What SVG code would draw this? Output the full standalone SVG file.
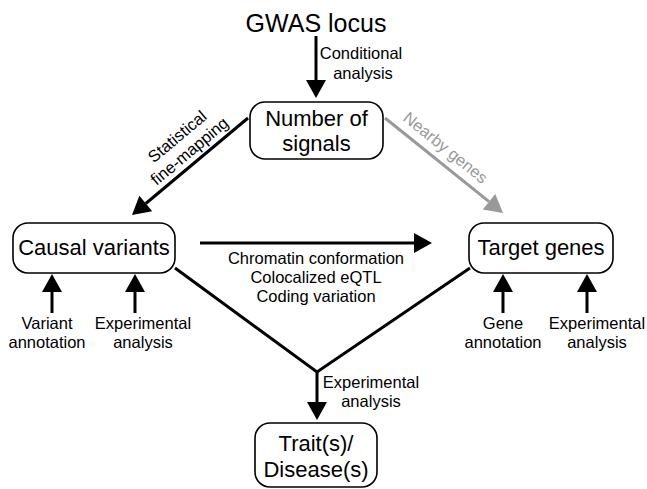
<svg xmlns="http://www.w3.org/2000/svg" width="647" height="489" viewBox="0 0 647 489">
<style>
text{font-family:"Liberation Sans",Arial,sans-serif;fill:#000}
.nt{font-size:22px;text-anchor:middle}
.lb{font-size:16.5px;text-anchor:middle}
.box{fill:#fff;stroke:#000;stroke-width:1.6}
.ln{stroke:#000;stroke-width:3;fill:none}
.gr{stroke:#999;stroke-width:3;fill:none}
</style>
<defs>
<marker id="ah" markerUnits="userSpaceOnUse" markerWidth="20" markerHeight="22" refX="0" refY="10" orient="auto" overflow="visible"><path d="M0,0 L18,10 L0,20 z" fill="#000"/></marker>
<marker id="ahg" markerUnits="userSpaceOnUse" markerWidth="20" markerHeight="22" refX="0" refY="10" orient="auto" overflow="visible"><path d="M0,0 L18,10 L0,20 z" fill="#999"/></marker>
</defs>
<rect width="647" height="489" fill="#fff"/>
<g id="connectors">
<line class="ln" x1="316" y1="36" x2="316" y2="80" marker-end="url(#ah)"/>
<line class="ln" x1="248" y1="118" x2="145.8" y2="203.5" marker-end="url(#ah)"/>
<line class="gr" x1="385" y1="118" x2="489" y2="201.7" marker-end="url(#ahg)"/>
<line class="ln" x1="200" y1="243" x2="414" y2="243" marker-end="url(#ah)"/>
<line class="ln" x1="52" y1="313" x2="52" y2="292" marker-end="url(#ah)"/>
<line class="ln" x1="135" y1="313" x2="135" y2="292" marker-end="url(#ah)"/>
<line class="ln" x1="503" y1="313" x2="503" y2="292" marker-end="url(#ah)"/>
<line class="ln" x1="587" y1="313" x2="587" y2="292" marker-end="url(#ah)"/>
<polyline class="ln" points="175,268 317,372 470,268"/>
<line class="ln" x1="317" y1="371" x2="317" y2="402" marker-end="url(#ah)"/>
<text class="lb" x="361" y="59">Conditional</text>
<text class="lb" x="363" y="79">analysis</text>
<g transform="translate(186,147) rotate(-40)">
<text class="lb" x="0" y="-8">Statistical</text>
<text class="lb" x="0" y="11">fine-mapping</text>
</g>
<text class="lb" transform="translate(442,152) rotate(39)" x="0" y="0" style="fill:#999">Nearby genes</text>
<text class="lb" x="316" y="264">Chromatin conformation</text>
<text class="lb" x="316" y="283">Colocalized eQTL</text>
<text class="lb" x="316" y="302">Coding variation</text>
<text class="lb" x="47" y="329">Variant</text>
<text class="lb" x="47" y="348">annotation</text>
<text class="lb" x="143" y="329">Experimental</text>
<text class="lb" x="143" y="348">analysis</text>
<text class="lb" x="503" y="329">Gene</text>
<text class="lb" x="503" y="348">annotation</text>
<text class="lb" x="597" y="329">Experimental</text>
<text class="lb" x="597" y="348">analysis</text>
<text class="lb" x="371" y="388">Experimental</text>
<text class="lb" x="371" y="407">analysis</text>
</g>
<g id="gwas">
<text x="316" y="32" style="font-size:25px;text-anchor:middle">GWAS locus</text>
</g>
<g id="signals">
<rect class="box" x="250" y="102" width="133" height="57" rx="15"/>
<text class="nt" x="316.5" y="126">Number of</text>
<text class="nt" x="316.5" y="151">signals</text>
</g>
<g id="causal">
<rect class="box" x="13" y="223" width="162" height="50" rx="15"/>
<text class="nt" x="94" y="255">Causal variants</text>
</g>
<g id="target">
<rect class="box" x="469" y="223" width="144" height="50" rx="15"/>
<text class="nt" x="541" y="255">Target genes</text>
</g>
<g id="trait">
<rect class="box" x="255" y="423" width="122" height="64" rx="15"/>
<text class="nt" x="316" y="451">Trait(s)/</text>
<text class="nt" x="316" y="477">Disease(s)</text>
</g>
</svg>
